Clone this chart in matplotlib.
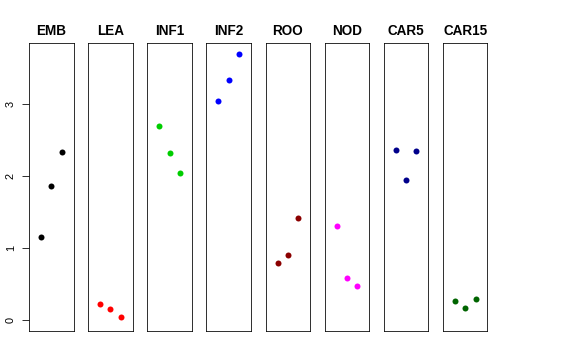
import matplotlib
matplotlib.use("Agg")
import matplotlib.pyplot as plt

# data: three replicates per tissue
tissues = ["EMB", "LEA", "INF1", "INF2", "ROO", "NOD", "CAR5", "CAR15"]
colors = ["black", "red", "#00CD00", "blue", "#8B0000", "magenta", "#00008B", "#006400"]
emb = [1.16, 1.86, 2.33]
lea = [0.22, 0.15, 0.05]
inf1 = [2.69, 2.31, 2.04]
inf2 = [3.04, 3.33, 3.69]
roo = [0.79, 0.90, 1.42]
nod = [1.30, 0.59, 0.48]
car5 = [2.36, 1.94, 2.34]
car15 = [0.27, 0.17, 0.30]
values = [emb, lea, inf1, inf2, roo, nod, car5, car15]
reps = [1, 2, 3]
yticks = [0, 1, 2, 3]

plt.rcParams["font.family"] = ["Liberation Sans", "DejaVu Sans"]

fig = plt.figure(figsize=(8, 5), dpi=72)

# panel geometry (figure fractions)
left0 = 29 / 576
pitch = 59.14 / 576
width = 44.5 / 576
bottom = 1 - 331 / 360
height = 288 / 360

ymax = max(max(v) for v in values)
pad_y = 0.04 * ymax

for i, (name, col, vals) in enumerate(zip(tissues, colors, values)):
    ax = fig.add_axes([left0 + i * pitch, bottom, width, height])
    ax.plot(reps, vals, "o", color=col, markersize=6, markeredgewidth=0)
    ax.set_xlim(-0.16, 4.16)
    ax.set_ylim(-pad_y, ymax + pad_y)
    ax.set_xticks([])
    for s in ax.spines.values():
        s.set_color("black")
        s.set_linewidth(0.8)
    ax.set_title(name, fontsize=13.5, fontweight="bold", pad=8)
    if i == 0:
        ax.set_yticks(yticks)
        ax.set_yticklabels([str(t) for t in yticks], rotation=90, va="center", fontsize=11)
        ax.tick_params(axis="y", length=7, width=0.8, pad=6)
    else:
        ax.set_yticks([])

fig.savefig("out.png", dpi=72)
